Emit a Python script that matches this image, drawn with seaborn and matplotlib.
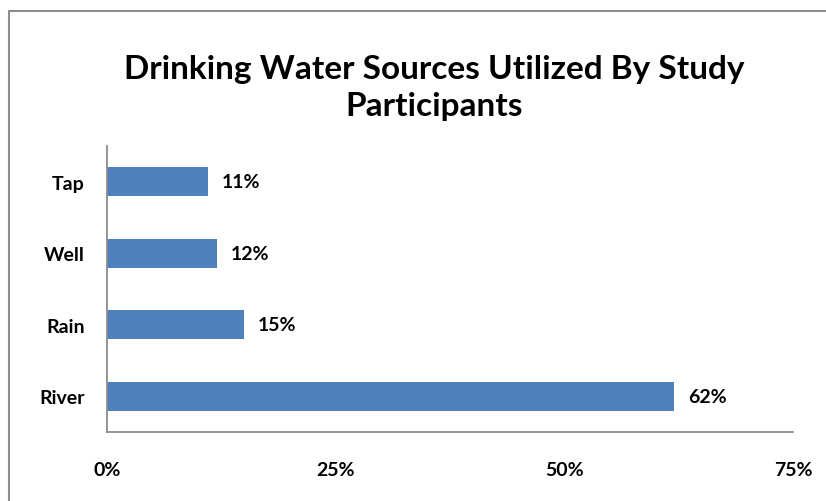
import matplotlib
matplotlib.use("Agg")
import matplotlib.pyplot as plt
import seaborn as sns
import pandas as pd
from matplotlib.lines import Line2D

sources = ["Tap", "Well", "Rain", "River"]
shares = [11, 12, 15, 62]
x_ticks = [0, 25, 50, 75]
x_tick_labels = ["0%", "25%", "50%", "75%"]
title = "Drinking Water Sources Utilized By Study\nParticipants"

sns.set_theme(style="white")
plt.rcParams["font.family"] = ["Lato", "DejaVu Sans"]

df = pd.DataFrame({"source": sources, "share": shares})

fig = plt.figure(figsize=(8.26, 5.02), dpi=100)
ax = fig.add_axes([107 / 826, 69 / 502, 686 / 826, 286 / 502])

sns.barplot(data=df, x="share", y="source", order=sources, color="#4F81BD",
            width=0.41, saturation=1, ax=ax, edgecolor="none")

ax.set_xlim(0, 75)
ax.set_ylim(3.5, -0.5)
ax.set_xticks(x_ticks)
ax.set_xticklabels(x_tick_labels)
ax.set_xlabel("")
ax.set_ylabel("")
ax.tick_params(axis="x", length=0, pad=21, labelsize=14)
ax.tick_params(axis="y", length=0, pad=16, labelsize=14)
for lbl in ax.get_xticklabels() + ax.get_yticklabels():
    lbl.set_fontweight("bold")
    lbl.set_color("black")

for side in ["top", "right"]:
    ax.spines[side].set_visible(False)
for side in ["left", "bottom"]:
    ax.spines[side].set_visible(True)
    ax.spines[side].set_color("#8C8C8C")
    ax.spines[side].set_linewidth(1.3)

for container in ax.containers:
    ax.bar_label(container, labels=[f"{v}%" for v in shares], padding=10,
                 fontsize=14, fontweight="bold", color="black")

fig.text(434 / 826, 1 - 88 / 502, title, ha="center", va="center",
         fontsize=24, fontweight="bold", color="black", linespacing=1.3)

# chart-area frame along the top and left edges
fig.add_artist(Line2D([9 / 826, 9 / 826], [0, 1 - 12 / 502],
                      transform=fig.transFigure, color="#8C8C8C", lw=1.5))
fig.add_artist(Line2D([9 / 826, 1], [1 - 12 / 502, 1 - 12 / 502],
                      transform=fig.transFigure, color="#8C8C8C", lw=1.5))

fig.savefig("out.png", dpi=100)
